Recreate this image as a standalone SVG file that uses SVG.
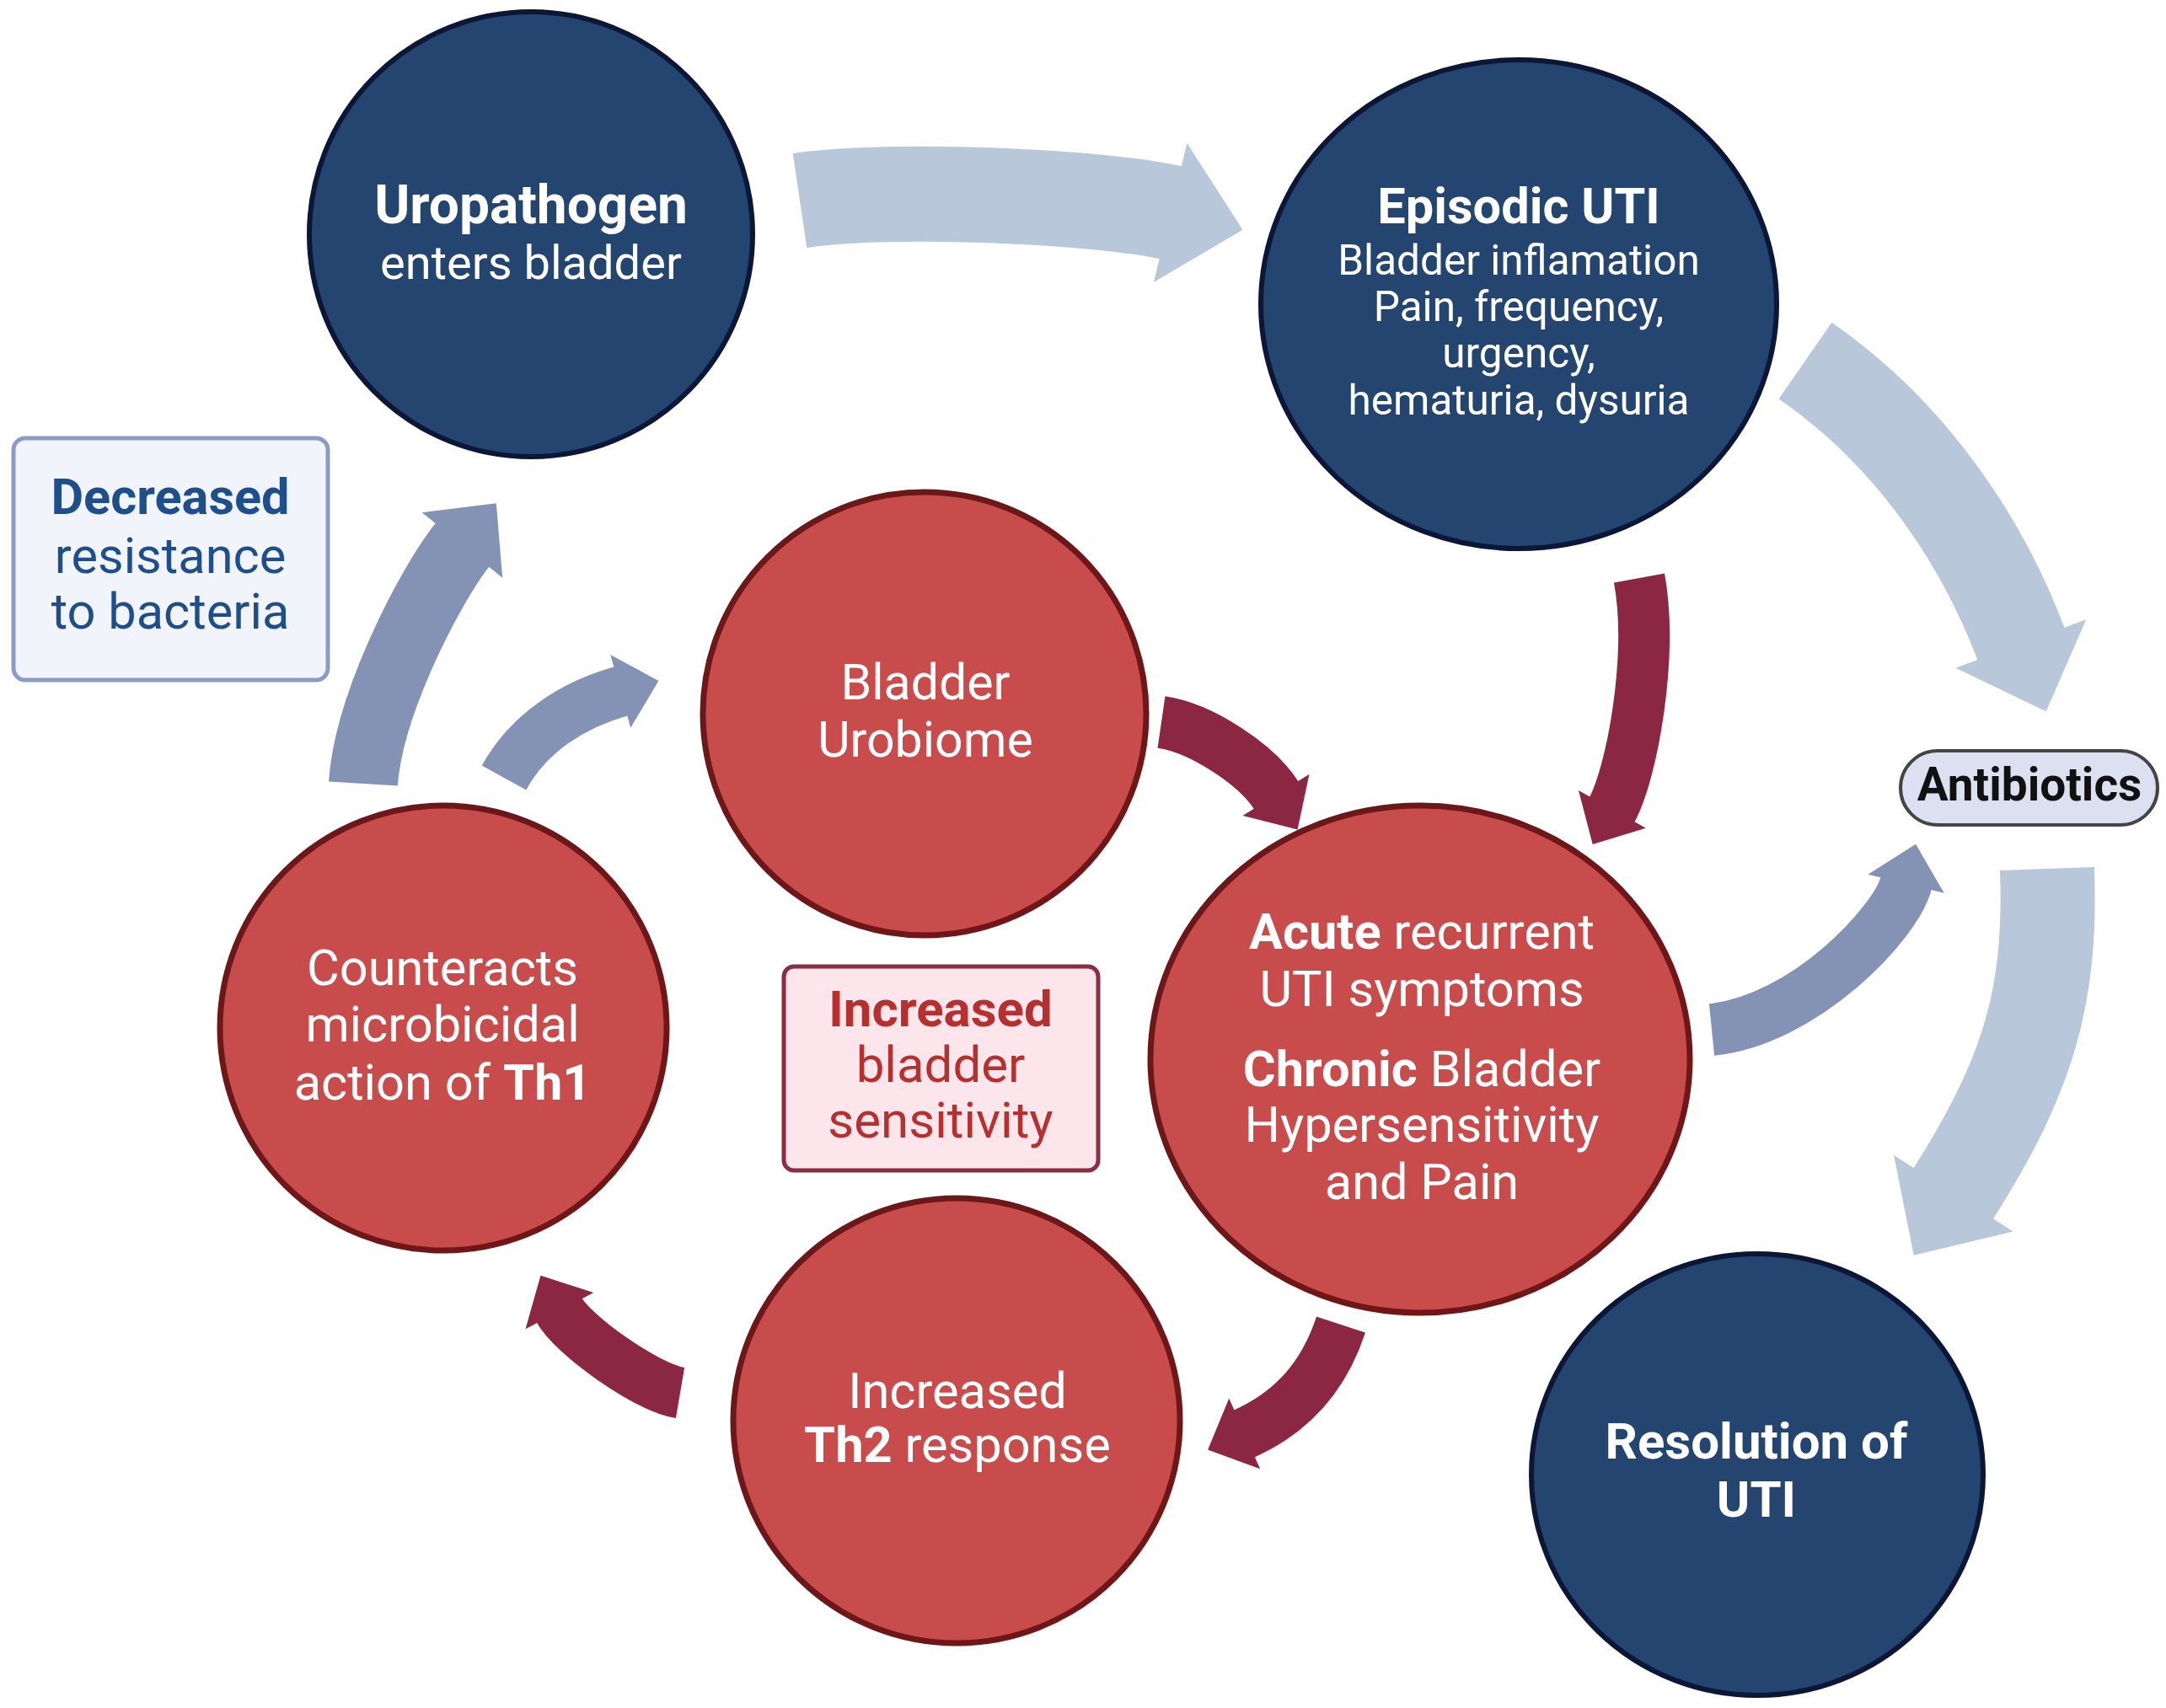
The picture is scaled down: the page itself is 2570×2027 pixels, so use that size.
<svg xmlns="http://www.w3.org/2000/svg" width="2570" height="2027" viewBox="0 0 2570 2027">
<style>
.navy{fill:#24456f;stroke:#0c1636;stroke-width:6}
.red{fill:#c94c4c;stroke:#6e1719;stroke-width:7}
.t{font-family:Roboto,"Liberation Sans",sans-serif;fill:#ffffff;text-anchor:middle}
.b{font-weight:bold}
.arr{fill:none;stroke-linecap:butt}
.light{stroke:#b9c7da;marker-end:url(#hl)}
.mid{stroke:#8493b5;marker-end:url(#hm)}
.dark{stroke:#8b2742;marker-end:url(#hd)}
</style>
<defs>
<marker id="hl" viewBox="0 -1 1 2" refX="0" refY="0" markerWidth="1" markerHeight="2" orient="auto" markerUnits="strokeWidth" overflow="visible"><path d="M-0.03,-0.75 L0.75,0 L-0.03,0.75 Z" fill="#b9c7da"/></marker>
<marker id="hm" viewBox="0 -1 1 2" refX="0" refY="0" markerWidth="1" markerHeight="2" orient="auto" markerUnits="strokeWidth" overflow="visible"><path d="M-0.03,-0.75 L0.75,0 L-0.03,0.75 Z" fill="#8493b5"/></marker>
<marker id="hd" viewBox="0 -1 1 2" refX="0" refY="0" markerWidth="1" markerHeight="2" orient="auto" markerUnits="strokeWidth" overflow="visible"><path d="M-0.03,-0.75 L0.75,0 L-0.03,0.75 Z" fill="#8b2742"/></marker>
</defs>
<rect x="0" y="0" width="2570" height="2027" fill="#ffffff"/>
<g id="connectors">
<path class="arr light" stroke-width="113" d="M949,238 C1056,222 1308,233 1392,253"/>
<path class="arr light" stroke-width="110" d="M2142,428 C2276,521 2357,654 2399,767"/>
<path class="arr light" stroke-width="112" d="M2429,1031 C2434,1178 2410,1272 2316,1419"/>
<path class="arr mid" stroke-width="82" d="M431,930 C437,836 511,693 550,645"/>
<path class="arr mid" stroke-width="60" d="M598,923 C627,870 680,836 738,820"/>
<path class="arr mid" stroke-width="62" d="M2031,1222 C2140,1211 2250,1096 2262,1047"/>
<path class="arr dark" stroke-width="62" d="M1378,857 C1426,864 1492,908 1515,945"/>
<path class="arr dark" stroke-width="61" d="M1945,686 C1962,780 1936,919 1912,962"/>
<path class="arr dark" stroke-width="61" d="M1591,1572 C1568,1642 1525,1680 1475,1702"/>
<path class="arr dark" stroke-width="61" d="M807,1653 C766,1646 679,1584 663,1554"/>
</g>
<g id="uropathogen">
<ellipse class="navy" cx="630" cy="278" rx="263" ry="264"/>
<text class="t b" x="630" y="265" font-size="64">Uropathogen</text>
<text class="t" x="630" y="331" font-size="56">enters bladder</text>
</g>
<g id="episodic-uti">
<ellipse class="navy" cx="1802" cy="361" rx="306" ry="290"/>
<text class="t b" x="1802" y="265" font-size="59.5">Episodic UTI</text>
<text class="t" x="1802" y="326" font-size="49.5">Bladder inflamation</text>
<text class="t" x="1802" y="381" font-size="49.5">Pain, frequency,</text>
<text class="t" x="1802" y="436" font-size="49.5">urgency,</text>
<text class="t" x="1802" y="492" font-size="49.5">hematuria, dysuria</text>
</g>
<g id="bladder-urobiome">
<ellipse class="red" cx="1097" cy="847" rx="263" ry="263"/>
<text class="t" x="1098" y="830" font-size="59">Bladder</text>
<text class="t" x="1098" y="898" font-size="59">Urobiome</text>
</g>
<g id="counteracts">
<ellipse class="red" cx="526" cy="1220" rx="265" ry="264"/>
<text class="t" x="525" y="1169" font-size="59.5">Counteracts</text>
<text class="t" x="525" y="1236" font-size="59.5">microbicidal</text>
<text class="t" x="525" y="1305" font-size="59.5">action of <tspan class="b">Th1</tspan></text>
</g>
<g id="th2-response">
<ellipse class="red" cx="1135" cy="1686" rx="265" ry="264"/>
<text class="t" x="1136" y="1671" font-size="59.5">Increased</text>
<text class="t" x="1136" y="1735" font-size="59.5"><tspan class="b">Th2</tspan> response</text>
</g>
<g id="acute-recurrent">
<ellipse class="red" cx="1685" cy="1257" rx="320" ry="301"/>
<text class="t" x="1687" y="1126" font-size="59.5"><tspan class="b">Acute</tspan> recurrent</text>
<text class="t" x="1687" y="1194" font-size="59.5">UTI symptoms</text>
<text class="t" x="1687" y="1289" font-size="59.5"><tspan class="b">Chronic</tspan> Bladder</text>
<text class="t" x="1687" y="1355" font-size="59.5">Hypersensitivity</text>
<text class="t" x="1687" y="1423" font-size="59.5">and Pain</text>
</g>
<g id="resolution">
<ellipse class="navy" cx="2085" cy="1750" rx="268" ry="262"/>
<text class="t b" x="2084" y="1731" font-size="60">Resolution of</text>
<text class="t b" x="2084" y="1800" font-size="60">UTI</text>
</g>
<g id="decreased-resistance">
<rect x="16" y="520" width="373" height="287" rx="14" fill="#f1f5fb" stroke="#8a9cc2" stroke-width="5"/>
<text class="t b" x="202" y="610" font-size="59.5" style="fill:#1e4f8b">Decreased</text>
<text class="t" x="202" y="680" font-size="59.5" style="fill:#1e4f8b">resistance</text>
<text class="t" x="202" y="746" font-size="59.5" style="fill:#1e4f8b">to bacteria</text>
</g>
<g id="increased-sensitivity">
<rect x="930" y="1147" width="373" height="242" rx="12" fill="#fce6ec" stroke="#8b2d45" stroke-width="5"/>
<text class="t b" x="1116" y="1218" font-size="60" style="fill:#b5302f">Increased</text>
<text class="t" x="1116" y="1284" font-size="60" style="fill:#b5302f">bladder</text>
<text class="t" x="1116" y="1350" font-size="60" style="fill:#b5302f">sensitivity</text>
</g>
<g id="antibiotics">
<rect x="2255" y="891" width="305" height="88" rx="44" fill="#dce0f0" stroke="#444444" stroke-width="4"/>
<text class="t b" x="2408" y="950" font-size="55" style="fill:#111111">Antibiotics</text>
</g>
</svg>
